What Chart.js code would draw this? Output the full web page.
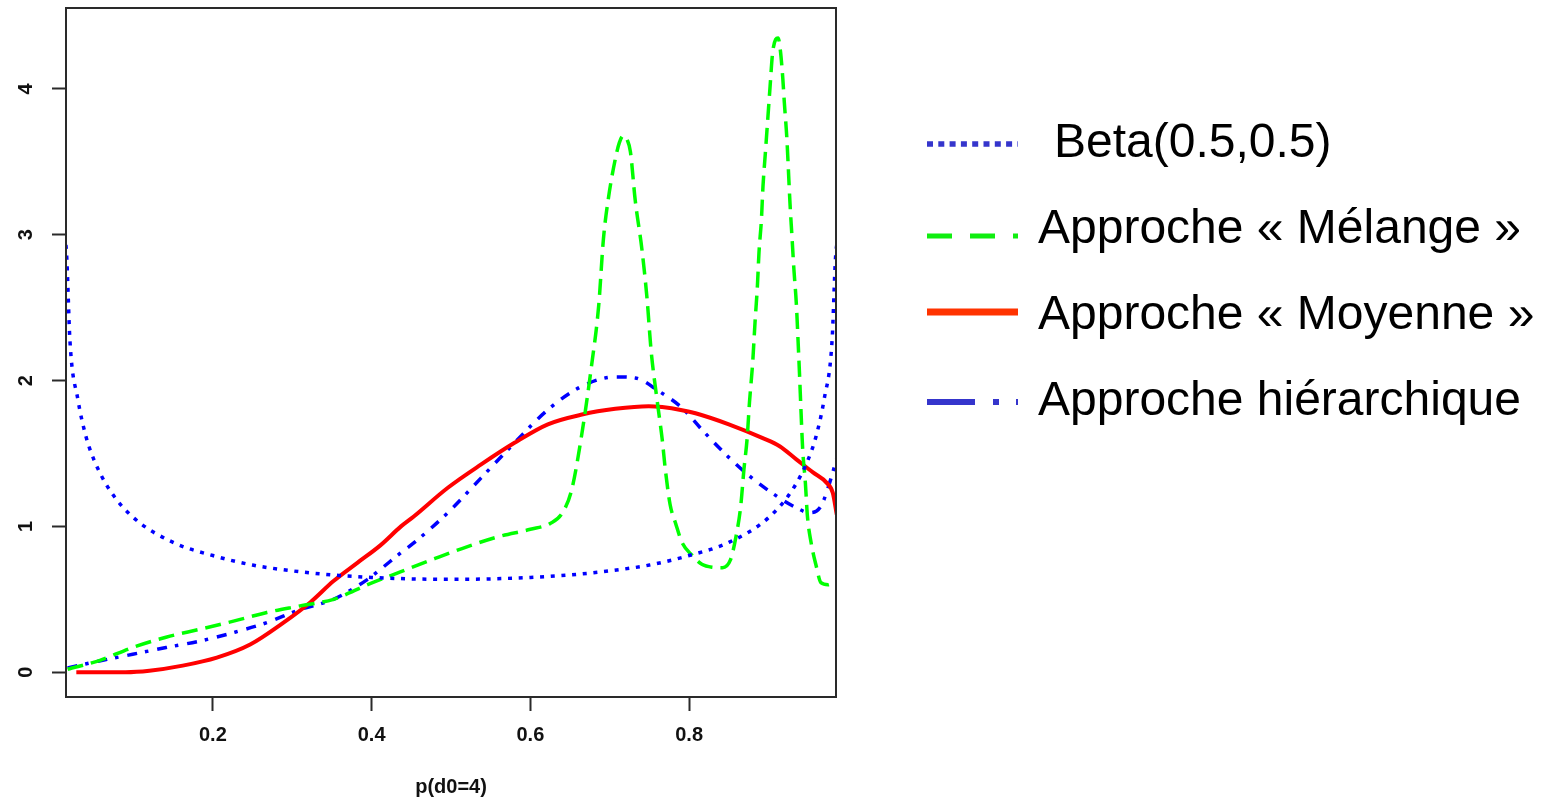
<!DOCTYPE html>
<html>
<head>
<meta charset="utf-8">
<script src="https://cdn.jsdelivr.net/npm/chart.js@4.4.1/dist/chart.umd.min.js"></script>
<style>
  html, body { margin: 0; padding: 0; background: #ffffff; }
  #wrap { position: relative; width: 1549px; height: 802px; }
</style>
</head>
<body>
<div id="wrap"><canvas id="c"></canvas></div>
<script>
// ---------- data ----------
const xTicks = [0.2, 0.4, 0.6, 0.8];
const yTicks = [0, 1, 2, 3, 4];
const xAxisTitle = 'p(d0=4)';
const seriesLabels = ['Beta(0.5,0.5)', 'Approche « Mélange »', 'Approche « Moyenne »', 'Approche hiérarchique'];

const betaX = [0.012, 0.0156, 0.02, 0.03, 0.04, 0.05, 0.07, 0.10, 0.15, 0.20, 0.25, 0.30, 0.35, 0.40, 0.45, 0.50,
               0.55, 0.60, 0.65, 0.70, 0.75, 0.80, 0.85, 0.90, 0.93, 0.95, 0.96, 0.97, 0.98, 0.9844, 0.988];
const betaY = [3.0, 2.88, 2.27, 1.87, 1.62, 1.46, 1.25, 1.06, 0.89, 0.80, 0.735, 0.695, 0.667, 0.65, 0.64, 0.637,
               0.64, 0.65, 0.667, 0.695, 0.735, 0.80, 0.89, 1.06, 1.25, 1.46, 1.62, 1.87, 2.27, 2.84, 3.0];

const melangeX = [0.017, 0.057, 0.099, 0.141, 0.184, 0.226, 0.268, 0.31, 0.352, 0.395, 0.437, 0.48, 0.52, 0.56,
                  0.60, 0.625, 0.640, 0.652, 0.665, 0.677, 0.686, 0.692, 0.698, 0.707, 0.712, 0.717, 0.722,
                  0.726, 0.732, 0.7405, 0.747, 0.752, 0.7595, 0.766, 0.770, 0.776, 0.783, 0.791, 0.804, 0.816,
                  0.829, 0.842, 0.852, 0.859, 0.865, 0.869, 0.873, 0.876, 0.880, 0.883, 0.886, 0.888, 0.891,
                  0.893, 0.896, 0.899, 0.902, 0.905, 0.909, 0.912, 0.915, 0.918, 0.920, 0.923, 0.925, 0.927,
                  0.9295, 0.932, 0.935, 0.937, 0.939, 0.941, 0.943, 0.9464, 0.949, 0.9536, 0.96, 0.966, 0.975, 0.981];
const melangeY = [0.02, 0.08, 0.17, 0.24, 0.295, 0.35, 0.41, 0.455, 0.50, 0.60, 0.69, 0.78, 0.86, 0.93,
                  0.98, 1.02, 1.09, 1.25, 1.64, 2.10, 2.51, 2.97, 3.24, 3.52, 3.63, 3.68, 3.65,
                  3.57, 3.24, 2.90, 2.56, 2.21, 1.87, 1.60, 1.39, 1.15, 1.02, 0.89, 0.80, 0.74,
                  0.72, 0.717, 0.77, 0.93, 1.14, 1.39, 1.60, 1.85, 2.12, 2.40, 2.65, 2.88, 3.10,
                  3.33, 3.56, 3.79, 4.02, 4.24, 4.34, 4.35, 4.26, 4.07, 3.90, 3.67, 3.45, 3.22,
                  2.99, 2.76, 2.53, 2.30, 2.05, 1.78, 1.53, 1.30, 1.07, 0.89, 0.73, 0.614, 0.60, 0.614];

const moyenneX = [0.028, 0.06, 0.09, 0.120, 0.162, 0.205, 0.247, 0.289, 0.323, 0.352, 0.382, 0.411, 0.437,
                  0.4535, 0.496, 0.538, 0.580, 0.622, 0.665, 0.707, 0.749, 0.766, 0.791, 0.808, 0.850,
                  0.892, 0.914, 0.935, 0.956, 0.973, 0.981, 0.986];
const moyenneY = [0.00, 0.00, 0.00, 0.01, 0.045, 0.10, 0.19, 0.34, 0.48, 0.625, 0.75, 0.87, 1.00,
                  1.07, 1.265, 1.425, 1.573, 1.70, 1.767, 1.806, 1.824, 1.818, 1.797, 1.776, 1.70,
                  1.607, 1.55, 1.46, 1.37, 1.30, 1.23, 1.08];

const hierX = [0.017, 0.057, 0.099, 0.141, 0.184, 0.226, 0.268, 0.31, 0.352, 0.395, 0.411, 0.437, 0.4535,
               0.496, 0.538, 0.58, 0.622, 0.665, 0.707, 0.732, 0.762, 0.791, 0.816, 0.844, 0.871, 0.901,
               0.935, 0.9515, 0.966, 0.979, 0.986];
const hierY = [0.03, 0.077, 0.123, 0.169, 0.214, 0.272, 0.34, 0.43, 0.50, 0.637, 0.705, 0.82, 0.888,
               1.094, 1.333, 1.573, 1.80, 1.961, 2.025, 2.018, 1.927, 1.813, 1.664, 1.505, 1.368, 1.242,
               1.128, 1.094, 1.139, 1.334, 1.47];

// ---------- build ----------
const pts = (xs, ys) => xs.map((x, i) => ({ x: x, y: ys[i] }));

const legendStyle = [
  { color: '#3535cc', width: 5.5, dash: [6, 5.3], lineY: 144, textX: 1054, baseY: 157 },
  { color: '#10ee10', width: 5,   dash: [25, 18], lineY: 236, textX: 1038, baseY: 243 },
  { color: '#ff3300', width: 7,   dash: [],       lineY: 312, textX: 1038, baseY: 329 },
  { color: '#3535cc', width: 6,   dash: [48, 18, 6, 17], lineY: 402, textX: 1038, baseY: 415 }
];

const rLegend = {
  id: 'rLegend',
  afterDraw(chart) {
    const ctx = chart.ctx;
    ctx.save();
    legendStyle.forEach((s, i) => {
      ctx.beginPath();
      ctx.strokeStyle = s.color;
      ctx.lineWidth = s.width;
      ctx.lineCap = 'butt';
      ctx.setLineDash(s.dash);
      ctx.moveTo(927, s.lineY);
      ctx.lineTo(1018, s.lineY);
      ctx.stroke();
      ctx.setLineDash([]);
      ctx.fillStyle = '#000000';
      ctx.font = '48px "Liberation Sans", Arial, sans-serif';
      ctx.textBaseline = 'alphabetic';
      ctx.textAlign = 'left';
      ctx.fillText(seriesLabels[i], s.textX, s.baseY);
    });
    ctx.restore();
  }
};

const frame = {
  id: 'frame',
  afterDatasetsDraw(chart) {
    const a = chart.chartArea;
    const ctx = chart.ctx;
    ctx.save();
    ctx.strokeStyle = '#2a2a2a';
    ctx.lineWidth = 2;
    ctx.strokeRect(a.left, a.top, a.right - a.left, a.bottom - a.top);
    ctx.restore();
  }
};

const common = { pointRadius: 0, pointHoverRadius: 0, fill: false, cubicInterpolationMode: 'monotone', clip: 0 };
const tickFont = { family: '"Liberation Sans", Arial, sans-serif', size: 20, weight: 'bold' };

new Chart(document.getElementById('c'), {
  type: 'line',
  data: {
    datasets: [
      Object.assign({ label: seriesLabels[0], data: pts(betaX, betaY), borderColor: '#0000ff', borderWidth: 3.5, borderDash: [4, 6.7] }, common),
      Object.assign({ label: seriesLabels[1], data: pts(melangeX, melangeY), borderColor: '#00ff00', borderWidth: 3.5, borderDash: [16, 8] }, common),
      Object.assign({ label: seriesLabels[2], data: pts(moyenneX, moyenneY), borderColor: '#ff0000', borderWidth: 4, borderDash: [] }, common),
      Object.assign({ label: seriesLabels[3], data: pts(hierX, hierY), borderColor: '#0000ff', borderWidth: 3.5, borderDash: [10, 8, 3.5, 9] }, common)
    ]
  },
  options: {
    responsive: true,
    maintainAspectRatio: false,
    animation: false,
    devicePixelRatio: 1,
    layout: { padding: { left: 0, top: 8, right: 713, bottom: 0 } },
    plugins: { legend: { display: false }, tooltip: { enabled: false } },
    scales: {
      x: {
        type: 'linear',
        min: 0.015,
        max: 0.985,
        afterBuildTicks: (s) => { s.ticks = xTicks.map(v => ({ value: v })); },
        afterFit: (s) => { s.height = 105; s.paddingLeft = 0; s.paddingRight = 0; s.paddingTop = 0; s.paddingBottom = 0; },
        grid: { drawOnChartArea: false, drawTicks: true, tickLength: 14, tickWidth: 2, tickColor: '#2a2a2a' },
        border: { display: false },
        ticks: { autoSkip: false, maxRotation: 0, minRotation: 0, padding: 12, color: '#111111', font: tickFont },
        title: { display: true, text: xAxisTitle, color: '#111111', padding: { top: 0, bottom: 3 }, font: tickFont }
      },
      y: {
        type: 'linear',
        min: -0.17,
        max: 4.555,
        afterBuildTicks: (s) => { s.ticks = yTicks.map(v => ({ value: v })); },
        afterFit: (s) => { s.width = 66; s.paddingLeft = 0; s.paddingRight = 0; s.paddingTop = 0; s.paddingBottom = 0; },
        grid: { drawOnChartArea: false, drawTicks: true, tickLength: 14, tickWidth: 2, tickColor: '#2a2a2a' },
        border: { display: false },
        ticks: { autoSkip: false, minRotation: 90, maxRotation: 90, crossAlign: 'center', padding: 20, color: '#111111', font: tickFont }
      }
    }
  },
  plugins: [frame, rLegend]
});
</script>
</body>
</html>
